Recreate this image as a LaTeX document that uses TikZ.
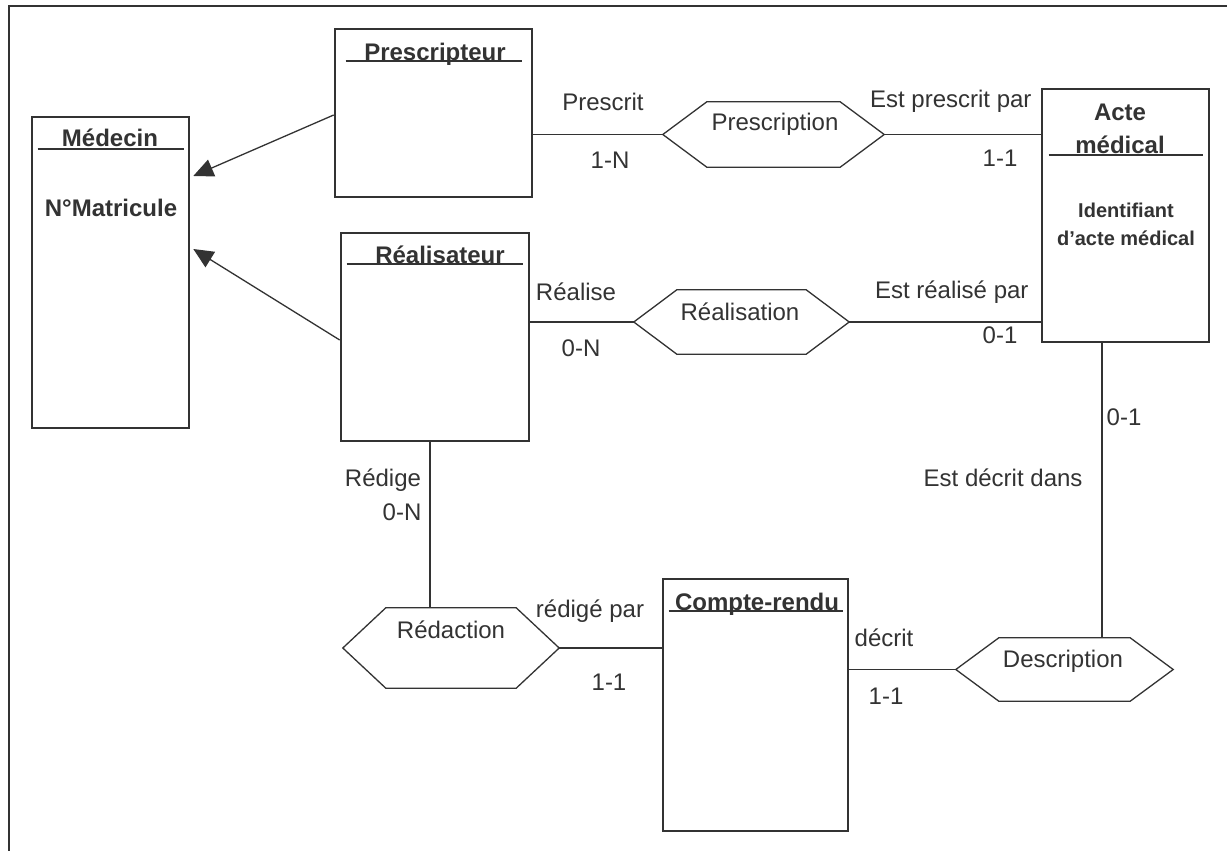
\documentclass[tikz,border=0pt]{standalone}
\usepackage{fontspec}
\setmainfont{Liberation Sans}
\usetikzlibrary{arrows.meta}
\definecolor{ink}{rgb}{0.2,0.2,0.2}
\begin{document}
\begin{tikzpicture}[x=1pt,y=-1pt,
  every node/.style={text=ink, font=\fontsize{24}{28}\selectfont},
  entbox/.style={draw=ink, line width=2.6pt, inner sep=0pt, rectangle},
  hexbox/.style={inner sep=0pt, rectangle},
  conn/.style={draw=ink, line width=1.3pt},
  arr/.style={conn, -{Triangle[length=20pt,width=18pt]}},
  uline/.style={draw=ink, line width=1.8pt},
  title/.style={font=\bfseries\fontsize{24}{28}\selectfont, anchor=base},
  lbl/.style={anchor=base},
  small/.style={font=\bfseries\fontsize{20}{24}\selectfont, anchor=base}]
\useasboundingbox (0,0) rectangle (1227,851);
\fill[white] (0,0) rectangle (1227,851);
% frame (top and left only)
\draw[ink, line width=2.4pt] (1227,6) -- (9,6) -- (9,851);

% entities
\node[entbox, minimum width=157pt, minimum height=311pt] (med) at (110.5,272.5) {};
\node[entbox, minimum width=197pt, minimum height=168pt] (pres) at (433.5,113) {};
\node[entbox, minimum width=188pt, minimum height=208pt] (rea) at (435,337) {};
\node[entbox, minimum width=167pt, minimum height=253pt] (acte) at (1125.5,215.5) {};
\node[entbox, minimum width=185pt, minimum height=252pt] (cr) at (755.5,705) {};

% titles
\node[title] (medT) at (110,146.5) {Médecin};
\draw[uline] ([xshift=7pt,yshift=-33pt]med.north west) -- ([xshift=-6pt,yshift=-33pt]med.north east);
\node[title] (medA) at (111,216.5) {N°Matricule};
\node[title] (presT) at (435,60.5) {Prescripteur};
\draw[uline] ([xshift=12pt,yshift=-33pt]pres.north west) -- ([xshift=-11pt,yshift=-33pt]pres.north east);
\node[title] (reaT) at (440,263.5) {Réalisateur};
\draw[uline] ([xshift=7pt,yshift=-32pt]rea.north west) -- ([xshift=-7pt,yshift=-32pt]rea.north east);
\node[title] (acteT1) at (1120,120.5) {Acte};
\node[title] (acteT2) at (1120,153.5) {médical};
\draw[uline] ([xshift=8pt,yshift=-67pt]acte.north west) -- ([xshift=-7pt,yshift=-67pt]acte.north east);
\node[small] (acteA1) at (1126,217) {Identifiant};
\node[small] (acteA2) at (1126,245) {d'acte médical};
\node[title] (crT) at (757,610) {Compte-rendu};
\draw[uline] ([xshift=7pt,yshift=-33pt]cr.north west) -- ([xshift=-6pt,yshift=-33pt]cr.north east);

% associations (hexagons)
\node[hexbox, minimum width=221pt, minimum height=65pt] (prescr) at (773.5,134.5) {};
\node[hexbox, minimum width=215pt, minimum height=64pt] (real) at (741.5,322) {};
\node[hexbox, minimum width=216pt, minimum height=80pt] (redac) at (451,648) {};
\node[hexbox, minimum width=217pt, minimum height=63pt] (descr) at (1064.5,669.5) {};
\foreach \h/\d in {prescr/44pt, real/43pt, redac/43pt, descr/43pt}{
  \draw[conn] (\h.west) -- ([xshift=\d]\h.north west) -- ([xshift=-\d]\h.north east)
    -- (\h.east) -- ([xshift=-\d]\h.south east) -- ([xshift=\d]\h.south west) -- cycle;
}
\node[lbl] (prescrT) at (775,130.5) {Prescription};
\node[lbl] (realT) at (740,320.5) {Réalisation};
\node[lbl] (redacT) at (451,638.5) {Rédaction};
\node[lbl] (descrT) at (1063,667.5) {Description};

% inheritance arrows
\draw[arr] ([yshift=-2pt]pres.west) -- ([xshift=3pt,yshift=96.5pt]med.east);
\draw[arr] ([yshift=-3pt]rea.west) -- ([xshift=3pt,yshift=23.5pt]med.east);

% connectors
\draw[conn] (prescr.west -| pres.east) -- (prescr.west);
\draw[conn] (prescr.east) -- (prescr.east -| acte.west);
\draw[conn] (real.west -| rea.east) -- (real.west);
\draw[conn] (real.east) -- (real.east -| acte.west);
\coordinate (rb) at ([xshift=-5pt]rea.south);
\draw[conn] (rb) -- (rb |- redac.north);
\draw[conn] (redac.east) -- (redac.east -| cr.west);
\draw[conn] (descr.west -| cr.east) -- (descr.west);
\coordinate (dt) at ([xshift=37.5pt]descr.north);
\draw[conn] (dt) -- (dt |- acte.south);

% role labels
\node[lbl] (l1) at (603,110.5) {Prescrit};
\node[lbl] (l2) at (610,168.5) {1-N};
\node[lbl, anchor=base east] (l3) at (1035,107.5) {Est prescrit par};
\node[lbl] (l4) at (1000,166.5) {1-1};
\node[lbl] (l5) at (576,300.5) {Réalise};
\node[lbl] (l6) at (581,356.5) {0-N};
\node[lbl, anchor=base east] (l7) at (1032,298.5) {Est réalisé par};
\node[lbl] (l8) at (1000,343.5) {0-1};
\node[lbl] (l9) at (383,486) {Rédige};
\node[lbl] (l10) at (402,520) {0-N};
\node[lbl] (l11) at (1124,425.5) {0-1};
\node[lbl, anchor=base east] (l12) at (1086,486.5) {Est décrit dans};
\node[lbl] (l13) at (590,617.5) {rédigé par};
\node[lbl] (l14) at (609,690.5) {1-1};
\node[lbl] (l15) at (884,646.5) {décrit};
\node[lbl] (l16) at (886,704.5) {1-1};
\end{tikzpicture}
\end{document}
